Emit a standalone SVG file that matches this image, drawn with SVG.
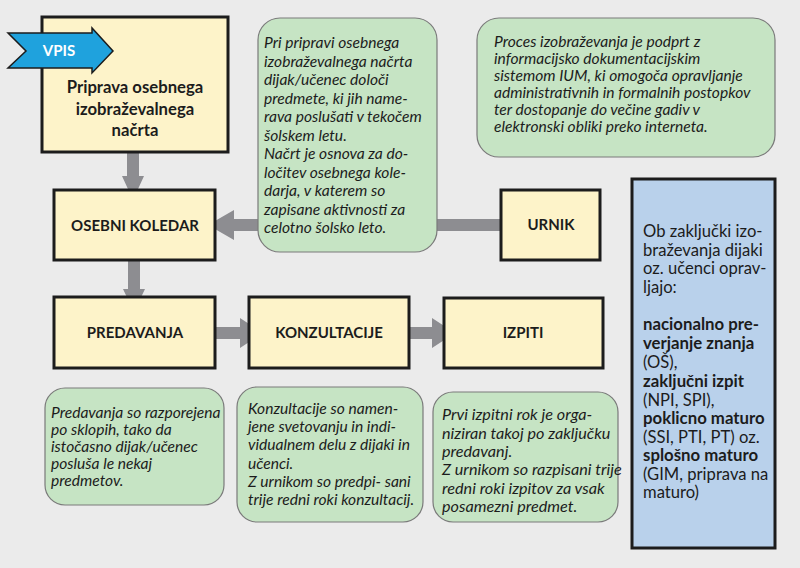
<svg xmlns="http://www.w3.org/2000/svg" width="800" height="568" viewBox="0 0 800 568">
<defs>
<style>
.bg{fill:#ebebeb}
.box{fill:#fdf3c9;stroke:#1c1c1c;stroke-width:3}
.note{fill:#c6e4c4;stroke:#7a7a7a;stroke-width:1.2}
.blue{fill:#b9d1eb;stroke:#1c1c1c;stroke-width:3}
.lbl{font-family:Lato,"Liberation Sans",sans-serif;font-weight:bold;font-size:15px;fill:#1c1c1c;text-anchor:middle}
.big{font-size:16.7px}
.it{font-family:Lato,"Liberation Sans",sans-serif;font-style:italic;font-size:15.6px;fill:#1c1c1c}
.it2{font-size:15.6px}
.it5{font-size:16.2px}
.bt{font-family:Lato,"Liberation Sans",sans-serif;font-size:16.6px;fill:#1c1c1c}
.b{font-weight:bold;font-size:16.8px}
.arr{fill:#8d8d91}
</style>
</defs>
<rect class="bg" x="0" y="0" width="800" height="568"/>

<g id="connectors">
<path class="arr" d="M127,152 H139 V176 H144 L133,200 L122,176 H127 Z"/>
<path class="arr" d="M128,260 H140 V289 H145 L134,312 L123,289 H128 Z"/>
<path class="arr" d="M258,219 V231 H234 V240 L208,225 L234,210 V219 Z"/>
<rect class="arr" x="437" y="219" width="64" height="12"/>
<path class="arr" d="M215,327 H240 V318 L263,333 L240,348 V339 H215 Z"/>
<path class="arr" d="M409,327 H432 V318 L455,333 L432,348 V339 H409 Z"/>
</g>

<g id="n-priprava">
<rect class="box" x="42" y="17" width="186" height="135"/>
<text class="lbl big" x="135" y="93">Priprava osebnega</text>
<text class="lbl big" x="135" y="115">izobraževalnega</text>
<text class="lbl big" x="135" y="136">načrta</text>
</g>

<g id="n-vpis">
<path d="M8,33 H92 V28 L113,51 L92,73 V68 H8 L26,51 Z" fill="#1fa2dd" stroke="#1c1c1c" stroke-width="1.5"/>
<text x="59" y="56" font-family="Lato,'Liberation Sans',sans-serif" font-weight="bold" font-size="15px" fill="#ffffff" text-anchor="middle">VPIS</text>
</g>

<g id="n-note1">
<rect class="note" x="258" y="18" width="179" height="234" rx="22"/>
<text class="it" x="264" y="48">Pri pripravi osebnega</text>
<text class="it" x="264" y="66.5">izobraževalnega načrta</text>
<text class="it" x="264" y="85">dijak/učenec določi</text>
<text class="it" x="264" y="103.5">predmete, ki jih name-</text>
<text class="it" x="264" y="122">rava poslušati v tekočem</text>
<text class="it" x="264" y="140.5">šolskem letu.</text>
<text class="it" x="264" y="159">Načrt je osnova za do-</text>
<text class="it" x="264" y="177.5">ločitev osebnega kole-</text>
<text class="it" x="264" y="196">darja, v katerem so</text>
<text class="it" x="264" y="214.5">zapisane aktivnosti za</text>
<text class="it" x="264" y="233">celotno šolsko leto.</text>
</g>

<g id="n-note2">
<rect class="note" x="477" y="18" width="298" height="139" rx="22"/>
<text class="it it2" x="494" y="47">Proces izobraževanja je podprt z</text>
<text class="it it2" x="494" y="64">informacijsko dokumentacijskim</text>
<text class="it it2" x="494" y="81">sistemom IUM, ki omogoča opravljanje</text>
<text class="it it2" x="494" y="98">administrativnih in formalnih postopkov</text>
<text class="it it2" x="494" y="115">ter dostopanje do večine gadiv v</text>
<text class="it it2" x="494" y="132">elektronski obliki preko interneta.</text>
</g>

<g id="n-koledar">
<rect class="box" x="54" y="190" width="161" height="70"/>
<text class="lbl" x="135" y="231">OSEBNI KOLEDAR</text>
</g>

<g id="n-urnik">
<rect class="box" x="501" y="190" width="99" height="70"/>
<text class="lbl" x="551" y="230">URNIK</text>
</g>

<g id="n-predavanja">
<rect class="box" x="54" y="297" width="161" height="71"/>
<text class="lbl" x="135" y="338">PREDAVANJA</text>
</g>

<g id="n-konzultacije">
<rect class="box" x="249" y="297" width="160" height="71"/>
<text class="lbl" x="329" y="338">KONZULTACIJE</text>
</g>

<g id="n-izpiti">
<rect class="box" x="444" y="298" width="159" height="70"/>
<text class="lbl" x="523" y="338">IZPITI</text>
</g>

<g id="n-zakljucek">
<rect class="blue" x="632" y="179" width="143" height="369"/>
<text class="bt" x="643" y="237">Ob zaključki izo-</text>
<text class="bt" x="643" y="255.5">braževanja dijaki</text>
<text class="bt" x="643" y="274">oz. učenci oprav-</text>
<text class="bt" x="643" y="292.5">ljajo:</text>
<text class="bt b" x="643" y="329.5">nacionalno pre-</text>
<text class="bt b" x="643" y="349">verjanje znanja</text>
<text class="bt" x="643" y="368">(OŠ),</text>
<text class="bt b" x="643" y="387">zaključni izpit</text>
<text class="bt" x="643" y="405.5">(NPI, SPI),</text>
<text class="bt b" x="643" y="424">poklicno maturo</text>
<text class="bt" x="643" y="442.5">(SSI, PTI, PT) oz.</text>
<text class="bt b" x="643" y="461">splošno maturo</text>
<text class="bt" x="643" y="479.5">(GIM, priprava na</text>
<text class="bt" x="643" y="498">maturo)</text>
</g>

<g id="n-note3">
<rect class="note" x="45" y="388" width="179" height="117" rx="20"/>
<text class="it" x="51" y="418">Predavanja so razporejena</text>
<text class="it" x="51" y="435">po sklopih, tako da</text>
<text class="it" x="51" y="452">istočasno dijak/učenec</text>
<text class="it" x="51" y="469">posluša le nekaj</text>
<text class="it" x="51" y="486">predmetov.</text>
</g>

<g id="n-note4">
<rect class="note" x="237" y="387" width="186" height="135" rx="20"/>
<text class="it" x="248" y="414">Konzultacije so namen-</text>
<text class="it" x="248" y="432">jene svetovanju in indi-</text>
<text class="it" x="248" y="450">vidualnem delu z dijaki in</text>
<text class="it" x="248" y="468.5">učenci.</text>
<text class="it" x="248" y="487">Z urnikom so predpi- sani</text>
<text class="it" x="248" y="505">trije redni roki konzultacij.</text>
</g>

<g id="n-note5">
<rect class="note" x="433" y="392" width="185" height="130" rx="20"/>
<text class="it it5" x="442" y="420">Prvi izpitni rok je orga-</text>
<text class="it it5" x="442" y="438.5">niziran takoj po zaključku</text>
<text class="it it5" x="442" y="457">predavanj.</text>
<text class="it it5" x="442" y="475">Z urnikom so razpisani trije</text>
<text class="it it5" x="442" y="493.5">redni roki izpitov za vsak</text>
<text class="it it5" x="442" y="512">posamezni predmet.</text>
</g>
</svg>
